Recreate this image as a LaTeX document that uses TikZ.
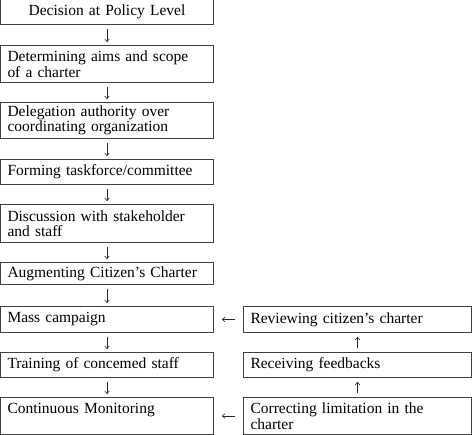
\documentclass[tikz,border=0pt]{standalone}
\usepackage{fontspec}
\setmainfont{Liberation Serif}
\usetikzlibrary{arrows.meta}
\begin{document}
\begin{tikzpicture}[x=1pt,y=-1pt,
  box/.style={draw=black!75, line width=1pt, anchor=north west, inner xsep=7pt, inner ysep=0pt,
    font=\fontsize{15.5}{15.5}\selectfont, align=left},
  lbox/.style={box, text width=199pt},
  rbox/.style={box, text width=214pt},
  flow/.style={-{To[length=3.2pt,width=5pt]}, line width=0.6pt, black!85}]
\useasboundingbox (0,0) rectangle (474,435);
\node[lbox, minimum height=25pt, align=center] (b1) at (0,-1) {Decision at Policy Level};
\node[lbox, minimum height=37pt] (b2) at (0,45) {Determining aims and scope\\of a charter};
\node[lbox, minimum height=36pt] (b3) at (0,102) {Delegation authority over\\coordinating organization};
\node[lbox, minimum height=25pt] (b4) at (0,159) {Forming taskforce/committee};
\node[lbox, minimum height=38pt] (b5) at (0,204) {Discussion with stakeholder\\and staff};
\node[lbox, minimum height=22pt] (b6) at (0,262) {Augmenting Citizen’s Charter};
\node[lbox, minimum height=26pt] (b7) at (0,306) {Mass campaign};
\node[lbox, minimum height=25pt] (b8) at (0,352) {Training of concemed staff};
\node[lbox, minimum height=37pt] (b9) at (0,397) {Continuous Monitoring\\\mbox{}};
\node[rbox, minimum height=26pt] (r1) at (243,306) {Reviewing citizen’s charter};
\node[rbox, minimum height=25pt] (r2) at (243,352) {Receiving feedbacks};
\node[rbox, minimum height=37pt] (r3) at (243,397) {Correcting limitation in the\\charter};
\foreach \a/\b in {b1/b2,b2/b3,b3/b4,b4/b5,b5/b6,b6/b7,b7/b8,b8/b9}
  \draw[flow, shorten <=4pt, shorten >=3pt] (\a.south) -- (\b.north);
\draw[flow, shorten <=4pt, shorten >=4pt] (r3.north) -- (r2.south);
\draw[flow, shorten <=4pt, shorten >=4pt] (r2.north) -- (r1.south);
\draw[flow, shorten <=8pt, shorten >=8pt] (r1.west) -- (b7.east);
\draw[flow, shorten <=8pt, shorten >=8pt] (r3.west) -- (b9.east);
\end{tikzpicture}
\end{document}
